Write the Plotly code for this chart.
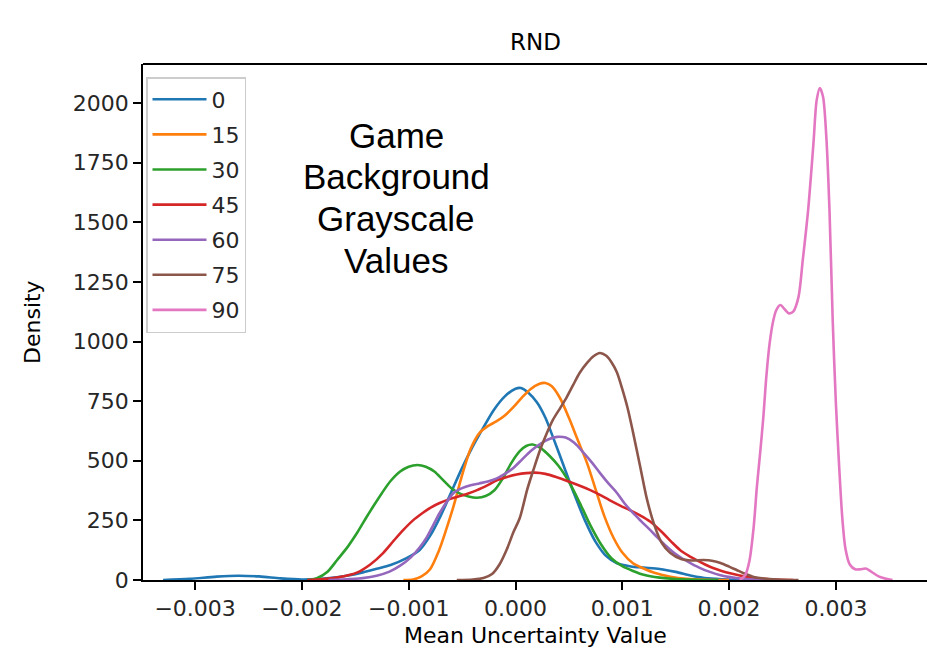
import plotly.graph_objects as go

# ---- data (x = Mean Uncertainty Value, y = Density) ----
series_names = ["0", "15", "30", "45", "60", "75", "90"]
series_colors = ["#1f77b4", "#ff7f0e", "#2ca02c", "#d62728", "#9467bd", "#8c564b", "#e377c2"]

x_0 = [-0.00330, -0.00305, -0.00280, -0.00260, -0.00240, -0.00220, -0.00200, -0.00185, -0.00174,
       -0.00158, -0.00143, -0.00130, -0.00117, -0.00102, -0.00090, -0.00080, -0.00070, -0.00060,
       -0.00050, -0.00040, -0.00030, -0.00020, -0.00010, 0.00000, 0.00005, 0.00012, 0.00020,
       0.00028, 0.00035, 0.00045, 0.00055, 0.00065, 0.00075, 0.00085, 0.00095, 0.00108, 0.00120,
       0.00135, 0.00150, 0.00165, 0.00180, 0.00200, 0.00230]
y_0 = [0, 5, 14, 18, 15, 7, 2, 4, 8, 18, 32, 47, 63, 92, 125, 185, 270, 370, 470, 560, 640, 715,
       770, 802, 805, 785, 745, 680, 600, 480, 360, 250, 160, 100, 70, 57, 52, 46, 34, 18, 7, 2, 0]

x_15 = [-0.00105, -0.00096, -0.00088, -0.00080, -0.00072, -0.00065, -0.00058, -0.00050, -0.00042,
        -0.00034, -0.00026, -0.00018, -0.00010, -0.00002, 0.00006, 0.00014, 0.00022, 0.00028,
        0.00034, 0.00042, 0.00050, 0.00058, 0.00067, 0.00075, 0.00083, 0.00092, 0.00100, 0.00110,
        0.00120, 0.00130, 0.00145, 0.00160, 0.00180, 0.00200]
y_15 = [0, 2, 15, 45, 120, 210, 310, 440, 550, 615, 645, 665, 690, 725, 765, 800, 822, 826, 812,
        760, 680, 590, 490, 380, 270, 175, 115, 70, 48, 30, 14, 5, 1, 0]

x_30 = [-0.00195, -0.00186, -0.00176, -0.00167, -0.00157, -0.00148, -0.00140, -0.00133, -0.00125,
        -0.00117, -0.00108, -0.00100, -0.00092, -0.00084, -0.00076, -0.00068, -0.00060, -0.00052,
        -0.00044, -0.00036, -0.00028, -0.00020, -0.00012, -0.00004, 0.00004, 0.00010, 0.00016,
        0.00024, 0.00032, 0.00040, 0.00050, 0.00060, 0.00070, 0.00080, 0.00090, 0.00100, 0.00110,
        0.00120, 0.00135, 0.00150, 0.00170, 0.00190]
y_30 = [0, 8, 35, 84, 140, 200, 260, 310, 365, 415, 455, 475, 482, 475, 455, 420, 385, 362, 350,
        345, 352, 375, 425, 490, 540, 562, 568, 552, 520, 480, 412, 325, 230, 150, 90, 58, 38, 22,
        10, 4, 1, 0]

x_45 = [-0.00195, -0.00180, -0.00165, -0.00148, -0.00136, -0.00124, -0.00114, -0.00105, -0.00096,
        -0.00087, -0.00079, -0.00071, -0.00063, -0.00055, -0.00045, -0.00036, -0.00026, -0.00017,
        -0.00008, 0.00001, 0.00010, 0.00018, 0.00028, 0.00038, 0.00051, 0.00062, 0.00070, 0.00080,
        0.00088, 0.00098, 0.00107, 0.00117, 0.00126, 0.00138, 0.00146, 0.00154, 0.00162, 0.00170,
        0.00178, 0.00185, 0.00193, 0.00201, 0.00210, 0.00217, 0.00228, 0.00241, 0.00260]
y_45 = [0, 4, 12, 32, 65, 113, 165, 210, 250, 281, 305, 323, 337, 348, 362, 377, 398, 419, 432,
        442, 448, 450, 445, 432, 411, 392, 377, 355, 335, 312, 293, 270, 245, 197, 160, 126, 102,
        82, 64, 50, 38, 28, 19, 13, 6, 2, 0]

x_60 = [-0.00175, -0.00155, -0.00143, -0.00130, -0.00118, -0.00108, -0.00098, -0.00090, -0.00083,
        -0.00077, -0.00071, -0.00064, -0.00058, -0.00050, -0.00042, -0.00034, -0.00026, -0.00018,
        -0.00010, -0.00002, 0.00006, 0.00014, 0.00023, 0.00031, 0.00039, 0.00047, 0.00055, 0.00064,
        0.00072, 0.00079, 0.00087, 0.00095, 0.00102, 0.00110, 0.00118, 0.00126, 0.00133, 0.00141,
        0.00149, 0.00157, 0.00165, 0.00173, 0.00182, 0.00192, 0.00201, 0.00213, 0.00226, 0.00240]
y_60 = [0, 4, 8, 18, 35, 60, 95, 135, 180, 230, 281, 330, 365, 385, 397, 405, 413, 425, 445, 470,
        505, 540, 570, 590, 600, 597, 575, 532, 490, 449, 405, 365, 322, 281, 245, 210, 178, 143,
        112, 88, 68, 50, 34, 20, 12, 5, 1, 0]

x_75 = [-0.00055, -0.00040, -0.00030, -0.00022, -0.00015, -0.00008, -0.00002, 0.00004, 0.00011,
        0.00017, 0.00023, 0.00029, 0.00035, 0.00042, 0.00048, 0.00054, 0.00060, 0.00067, 0.00073,
        0.00079, 0.00085, 0.00090, 0.00095, 0.00100, 0.00105, 0.00110, 0.00117, 0.00123, 0.00130,
        0.00137, 0.00145, 0.00155, 0.00165, 0.00176, 0.00185, 0.00192, 0.00200, 0.00207, 0.00215,
        0.00223, 0.00235, 0.00250, 0.00265]
y_75 = [0, 2, 8, 25, 65, 130, 200, 260, 380, 465, 545, 612, 671, 722, 767, 818, 868, 910, 938,
        952, 940, 912, 870, 800, 720, 620, 470, 340, 230, 155, 113, 88, 82, 84, 80, 71, 56, 42,
        26, 13, 5, 1, 0]

x_90 = [0.00210, 0.00215, 0.00219, 0.00223, 0.00226, 0.00229, 0.00232, 0.00235, 0.00238, 0.00241,
        0.00244, 0.00248, 0.00252, 0.00256, 0.00260, 0.00265, 0.00269, 0.00274, 0.00279, 0.00282,
        0.00285, 0.00288, 0.00291, 0.00294, 0.00297, 0.00300, 0.00303, 0.00306, 0.00309, 0.00313,
        0.00318, 0.00323, 0.00328, 0.00333, 0.00340, 0.00347, 0.00353]
y_90 = [0, 20, 80, 222, 390, 530, 680, 860, 994, 1080, 1130, 1153, 1135, 1118, 1125, 1187, 1342,
        1551, 1832, 2012, 2063, 2025, 1860, 1550, 1090, 740, 480, 260, 130, 65, 45, 45, 48, 35, 15,
        5, 0]

series_x = [x_0, x_15, x_30, x_45, x_60, x_75, x_90]
series_y = [y_0, y_15, y_30, y_45, y_60, y_75, y_90]

x_tick_vals = [-0.003, -0.002, -0.001, 0.0, 0.001, 0.002, 0.003]
x_tick_text = ["\u22120.003", "\u22120.002", "\u22120.001", "0.000", "0.001", "0.002", "0.003"]
y_tick_vals = [0, 250, 500, 750, 1000, 1250, 1500, 1750, 2000]
y_tick_text = ["0", "250", "500", "750", "1000", "1250", "1500", "1750", "2000"]

annotation_lines = ["Game", "Background", "Grayscale", "Values"]

# ---- layout geometry (pixels) ----
W, H = 927, 651
L, R, T, B = 143, 0, 64, 71
PW, PH = W - L - R, H - T - B


def px_x(p):
    return (p - L) / PW


def px_y(p):
    return (H - B - p) / PH


AXFONT = "DejaVu Sans"

fig = go.Figure()
for name, col, xs, ys in zip(series_names, series_colors, series_x, series_y):
    fig.add_trace(go.Scatter(
        x=xs, y=ys, mode="lines", name=name, legendgroup=name,
        line=dict(color=col, width=2.6, shape="spline", smoothing=0.8),
    ))

annotations = [
    dict(text="RND", x=0.5, y=px_y(42), xref="paper", yref="paper", showarrow=False,
         xanchor="center", yanchor="middle", font=dict(family=AXFONT, size=23, color="black")),
    dict(text="Mean Uncertainty Value", x=0.5, y=px_y(635), xref="paper", yref="paper",
         showarrow=False, xanchor="center", yanchor="middle",
         font=dict(family=AXFONT, size=22, color="black")),
    dict(text="Density", x=px_x(32), y=px_y(322), xref="paper", yref="paper", showarrow=False,
         textangle=-90, xanchor="center", yanchor="middle",
         font=dict(family=AXFONT, size=22, color="black")),
]
for txt, yc in zip(annotation_lines, [135, 177, 218, 260]):
    annotations.append(dict(text=txt, x=px_x(396), y=px_y(yc), xref="paper", yref="paper",
                            showarrow=False, xanchor="center", yanchor="middle",
                            font=dict(family="Liberation Sans, Arial", size=35, color="black")))

fig.update_layout(
    width=W, height=H,
    margin=dict(l=L, r=R, t=T, b=B, pad=0),
    paper_bgcolor="white", plot_bgcolor="white",
    showlegend=True,
    legend=dict(x=px_x(146), y=px_y(77), xanchor="left", yanchor="top",
                bgcolor="rgba(255,255,255,0.8)", bordercolor="#cccccc", borderwidth=1.5,
                font=dict(family=AXFONT, size=22, color="#262626"),
                traceorder="grouped", tracegroupgap=3.5, itemwidth=54),
    annotations=annotations,
    shapes=[dict(type="line", xref="paper", yref="paper", x0=0, x1=1, y0=1, y1=1,
                 line=dict(color="black", width=1.8))],
)
fig.update_xaxes(range=[-0.003488, 0.003853], tickvals=x_tick_vals, ticktext=x_tick_text,
                 showgrid=False, zeroline=False, showline=True, linecolor="black", linewidth=1.8,
                 ticks="outside", ticklen=8, tickwidth=1.8, tickcolor="black",
                 tickfont=dict(family=AXFONT, size=22, color="#262626"))
fig.update_yaxes(range=[0, 2163.5], tickvals=y_tick_vals, ticktext=y_tick_text,
                 showgrid=False, zeroline=False, showline=True, linecolor="black", linewidth=1.8,
                 ticks="outside", ticklen=8, tickwidth=1.8, tickcolor="black",
                 tickfont=dict(family=AXFONT, size=22, color="#262626"))

fig.write_html("out.html", config={"displayModeBar": False},
               post_script="document.body.style.margin='0';document.body.style.overflow='hidden';")
